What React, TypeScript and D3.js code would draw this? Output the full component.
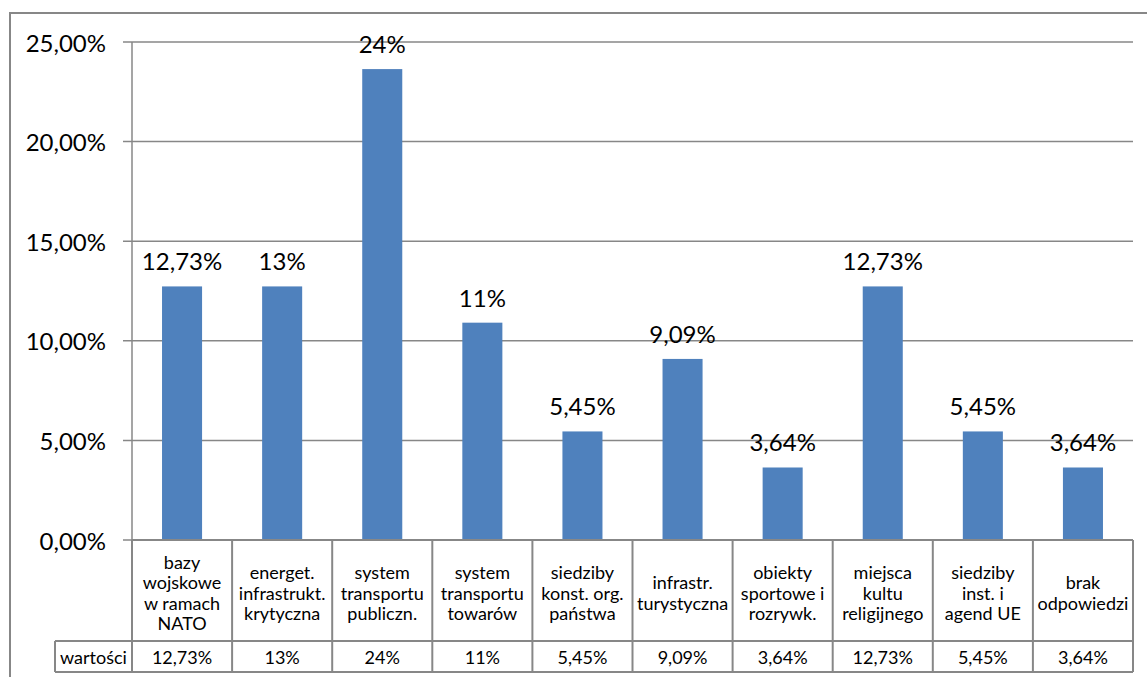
import React from "react";
import * as d3 from "d3";

const categories: string[] = [
  "bazy\nwojskowe\nw ramach\nNATO",
  "energet.\ninfrastrukt.\nkrytyczna",
  "system\ntransportu\npubliczn.",
  "system\ntransportu\ntowarów",
  "siedziby\nkonst. org.\npaństwa",
  "infrastr.\nturystyczna",
  "obiekty\nsportowe i\nrozrywk.",
  "miejsca\nkultu\nreligijnego",
  "siedziby\ninst. i\nagend UE",
  "brak\nodpowiedzi",
];
const values: number[] = [12.73, 12.73, 23.64, 10.91, 5.45, 9.09, 3.64, 12.73, 5.45, 3.64];
const valueLabels: string[] = ["12,73%", "13%", "24%", "11%", "5,45%", "9,09%", "3,64%", "12,73%", "5,45%", "3,64%"];
const yTicks: number[] = [0, 5, 10, 15, 20, 25];
const rowHeader = "wartości";

const W = 1147;
const H = 677;
const FONT = "Lato, 'Open Sans', sans-serif";
const GRID = "#878787";
const BAR = "#4F81BD";

export default function App() {
  const left = 132;
  const right = 1133;
  const top = 42;
  const bottom = 540;
  const tableMid = 641;
  const tableBottom = 672;
  const headerLeft = 55;

  const x = d3
    .scaleBand<number>()
    .domain(d3.range(categories.length))
    .range([left, right])
    .paddingInner(0.6)
    .paddingOuter(0.3);
  const step = x.step();
  const y = d3.scaleLinear().domain([0, 25]).range([bottom, top]);
  const colX = (i: number) => left + i * step;
  const fmt = (v: number) => d3.format(".2f")(v).replace(".", ",") + "%";

  return (
    <svg
      width={W}
      height={H}
      style={{ position: "absolute", left: 0, top: 0, background: "#fff" }}
      fontFamily={FONT}
    >
      {/* outer chart frame */}
      <rect x={10} y={13} width={1300} height={800} fill="none" stroke={GRID} strokeWidth={2} />

      {/* gridlines and ticks */}
      {yTicks.map((t) => (
        <g key={t}>
          <line x1={left - 9} x2={right} y1={y(t)} y2={y(t)} stroke={GRID} strokeWidth={1.5} />
          <text
            x={106}
            y={y(t)}
            textAnchor="end"
            dominantBaseline="central"
            fontSize={24}
            fill="#000"
          >
            {fmt(t)}
          </text>
        </g>
      ))}
      {/* y axis */}
      <line x1={left} x2={left} y1={top} y2={bottom} stroke={GRID} strokeWidth={1.5} />

      {/* bars */}
      {values.map((v, i) => (
        <rect
          key={i}
          x={x(i)!}
          y={y(v)}
          width={x.bandwidth()}
          height={bottom - y(v)}
          fill={BAR}
        />
      ))}

      {/* data labels */}
      {values.map((v, i) => (
        <text
          key={i}
          x={x(i)! + x.bandwidth() / 2}
          y={y(v) - 16}
          textAnchor="middle"
          fontSize={24}
          fill="#000"
        >
          {valueLabels[i]}
        </text>
      ))}

      {/* data table */}
      <g stroke={GRID} strokeWidth={2} fill="none">
        <line x1={left} x2={right} y1={bottom} y2={bottom} />
        <line x1={headerLeft} x2={right} y1={tableMid} y2={tableMid} />
        <line x1={headerLeft} x2={right} y1={tableBottom} y2={tableBottom} />
        <line x1={headerLeft} x2={headerLeft} y1={tableMid} y2={tableBottom} />
        {d3.range(categories.length + 1).map((i) => (
          <line key={i} x1={colX(i)} x2={colX(i)} y1={bottom} y2={tableBottom} />
        ))}
      </g>
      <text
        x={(headerLeft + left) / 2}
        y={(tableMid + tableBottom) / 2}
        textAnchor="middle"
        dominantBaseline="central"
        fontSize={18}
      >
        {rowHeader}
      </text>
      {categories.map((c, i) => {
        const lines = c.split("\n");
        const lh = 20.5;
        const cy = (bottom + tableMid) / 2 + 2;
        const y0 = cy - ((lines.length - 1) * lh) / 2;
        return (
          <g key={i}>
            <text textAnchor="middle" fontSize={18} fill="#000">
              {lines.map((l, k) => (
                <tspan key={k} x={colX(i) + step / 2} y={y0 + k * lh} dominantBaseline="central">
                  {l}
                </tspan>
              ))}
            </text>
            <text
              x={colX(i) + step / 2}
              y={(tableMid + tableBottom) / 2}
              textAnchor="middle"
              dominantBaseline="central"
              fontSize={18}
            >
              {valueLabels[i]}
            </text>
          </g>
        );
      })}
    </svg>
  );
}
